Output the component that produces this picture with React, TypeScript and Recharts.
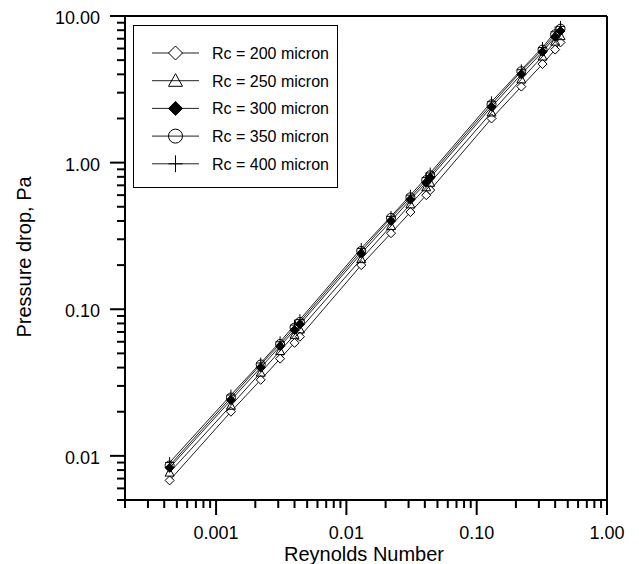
import { ComposedChart, Line, XAxis, YAxis, ReferenceLine, Legend } from 'recharts';

const reynolds = [0.00044, 0.0013, 0.0022, 0.0031, 0.004, 0.0044, 0.013, 0.022, 0.031, 0.041, 0.044, 0.13, 0.22, 0.32, 0.4, 0.44];
const rc200 = [0.0068, 0.02, 0.033, 0.046, 0.059, 0.065, 0.2, 0.33, 0.46, 0.6, 0.65, 2.0, 3.3, 4.7, 5.9, 6.6];
const rc250 = [0.0077, 0.022, 0.037, 0.052, 0.067, 0.073, 0.22, 0.37, 0.52, 0.68, 0.73, 2.2, 3.7, 5.3, 6.7, 7.3];
const rc300 = [0.0083, 0.024, 0.04, 0.056, 0.072, 0.079, 0.24, 0.4, 0.56, 0.73, 0.79, 2.4, 4.0, 5.7, 7.2, 7.9];
const rc350 = [0.0086, 0.025, 0.042, 0.058, 0.075, 0.082, 0.25, 0.42, 0.58, 0.76, 0.82, 2.5, 4.2, 5.9, 7.5, 8.2];
const rc400 = [0.009, 0.026, 0.043, 0.06, 0.078, 0.085, 0.26, 0.43, 0.6, 0.79, 0.85, 2.6, 4.3, 6.1, 7.8, 8.5];

const xMajor = [0.001, 0.01, 0.1, 1];
const xMajorLabels = ['0.001', '0.01', '0.10', '1.00'];
const yMajor = [0.01, 0.1, 1, 10];
const yMajorLabels = ['0.01', '0.10', '1.00', '10.00'];

const seriesNames = ['Rc = 200 micron', 'Rc = 250 micron', 'Rc = 300 micron', 'Rc = 350 micron', 'Rc = 400 micron'];
const seriesKeys = ['rc200', 'rc250', 'rc300', 'rc350', 'rc400'];
const seriesMarkers = ['diamond', 'triangle', 'filledDiamond', 'circle', 'cross'];

const data = reynolds.map((re, i) => ({
  re,
  rc200: rc200[i],
  rc250: rc250[i],
  rc300: rc300[i],
  rc350: rc350[i],
  rc400: rc400[i],
}));

// all 1..9 x 10^n values inside a range, used for the minor ticks of the log axes
const logTicks = (lo: number, hi: number) => {
  const out: number[] = [];
  for (let e = -5; e <= 2; e++) {
    for (let m = 1; m <= 9; m++) {
      const v = Number((m * Math.pow(10, e)).toPrecision(3));
      if (v >= lo * 0.999999 && v <= hi * 1.000001) out.push(v);
    }
  }
  return out;
};

const X_DOMAIN: [number, number] = [0.0002, 1];
const Y_DOMAIN: [number, number] = [0.005, 10];
const xTicks = logTicks(X_DOMAIN[0], X_DOMAIN[1]);
const yTicks = logTicks(Y_DOMAIN[0], Y_DOMAIN[1]);

const FONT = '"Liberation Sans", Arial, Helvetica, sans-serif';

const majorIndex = (list: number[], v: number) =>
  list.findIndex((m) => Math.abs(m - v) / m < 1e-6);

const XTick = (props: any) => {
  const { x, y, payload } = props;
  const idx = majorIndex(xMajor, payload.value);
  const major = idx >= 0;
  return (
    <g>
      <line x1={x} y1={y} x2={x} y2={y + (major ? 15 : 8)} stroke="#000" strokeWidth={2} />
      {major && (
        <text x={x} y={y + 39} textAnchor="middle" fontSize={18} fontFamily={FONT} fill="#000">
          {xMajorLabels[idx]}
        </text>
      )}
    </g>
  );
};

const YTick = (props: any) => {
  const { x, y, payload } = props;
  const idx = majorIndex(yMajor, payload.value);
  const major = idx >= 0;
  return (
    <g>
      <line x1={x - (major ? 15 : 8)} y1={y} x2={x} y2={y} stroke="#000" strokeWidth={2} />
      {major && (
        <text x={x - 25} y={y + 8} textAnchor="end" fontSize={18} fontFamily={FONT} fill="#000">
          {yMajorLabels[idx]}
        </text>
      )}
    </g>
  );
};

// axis titles ignore whatever recharts passes in and sit at fixed spots
const XTitle = () => (
  <text x={356} y={553} textAnchor="middle" fontSize={20} fontFamily={FONT} fill="#000">
    Reynolds Number
  </text>
);

const YTitle = () => (
  <text x={16} y={249} transform="rotate(-90 16 249)" textAnchor="middle" dominantBaseline="central" fontSize={20} fontFamily={FONT} fill="#000">
    Pressure drop, Pa
  </text>
);

const Marker = ({ kind, cx, cy, r }: { kind: string; cx: number; cy: number; r: number }) => {
  if (cx == null || cy == null) return null;
  const stroke = '#000';
  switch (kind) {
    case 'diamond':
      return <polygon points={`${cx},${cy - r} ${cx + r},${cy} ${cx},${cy + r} ${cx - r},${cy}`} fill="#fff" stroke={stroke} strokeWidth={1} />;
    case 'filledDiamond':
      return <polygon points={`${cx},${cy - r} ${cx + r},${cy} ${cx},${cy + r} ${cx - r},${cy}`} fill="#000" stroke={stroke} strokeWidth={1} />;
    case 'triangle':
      return <polygon points={`${cx},${cy - r} ${cx + r},${cy + r * 0.8} ${cx - r},${cy + r * 0.8}`} fill="none" stroke={stroke} strokeWidth={1} />;
    case 'circle':
      return <circle cx={cx} cy={cy} r={r} fill="none" stroke={stroke} strokeWidth={1} />;
    default:
      return (
        <g stroke={stroke} strokeWidth={1}>
          <line x1={cx - r} y1={cy} x2={cx + r} y2={cy} />
          <line x1={cx} y1={cy - r * 1.2} x2={cx} y2={cy + r * 1.2} />
        </g>
      );
  }
};

const LegendBox = () => (
  <div style={{ width: 205, height: 163, border: '1px solid #000', background: '#fff', boxSizing: 'border-box' }}>
    <svg width={203} height={161}>
      {seriesNames.map((name, i) => {
        const cy = 27 + i * 27.7;
        return (
          <g key={name}>
            <line x1={18} y1={cy} x2={65} y2={cy} stroke="#222" strokeWidth={1} />
            <Marker kind={seriesMarkers[i]} cx={41.5} cy={cy} r={7} />
            <text x={78} y={cy + 6} fontSize={16} fontFamily={FONT} fill="#000">
              {name}
            </text>
          </g>
        );
      })}
    </svg>
  </div>
);

export default function App() {
  return (
    <ComposedChart width={631} height={556} data={data} margin={{ top: 8, right: 32, left: 0, bottom: 0 }}>
      <XAxis
        dataKey="re"
        type="number"
        scale="log"
        domain={X_DOMAIN}
        allowDataOverflow
        ticks={xTicks}
        interval={0}
        tick={<XTick />}
        tickLine={false}
        tickSize={0}
        tickMargin={0}
        height={64}
        axisLine={{ stroke: '#000', strokeWidth: 2 }}
        label={<XTitle />}
      />
      <YAxis
        type="number"
        scale="log"
        domain={Y_DOMAIN}
        allowDataOverflow
        ticks={yTicks}
        interval={0}
        tick={<YTick />}
        tickLine={false}
        tickSize={0}
        tickMargin={0}
        width={117}
        axisLine={{ stroke: '#000', strokeWidth: 2 }}
        label={<YTitle />}
      />
      <ReferenceLine y={Y_DOMAIN[1]} stroke="#000" strokeWidth={2} />
      <ReferenceLine x={X_DOMAIN[1]} stroke="#000" strokeWidth={2} />
      <Legend
        layout="vertical"
        align="center"
        verticalAlign="middle"
        wrapperStyle={{ left: 125, top: 17, width: 205, height: 163 }}
        content={() => <LegendBox />}
      />
      {seriesKeys.map((key, i) => (
        <Line
          key={key}
          dataKey={key}
          name={seriesNames[i]}
          type="linear"
          stroke="#222"
          strokeWidth={1}
          isAnimationActive={false}
          dot={(p: any) => <Marker key={`${key}-${p.index}`} kind={seriesMarkers[i]} cx={p.cx} cy={p.cy} r={4.5} />}
          activeDot={false}
        />
      ))}
    </ComposedChart>
  );
}
